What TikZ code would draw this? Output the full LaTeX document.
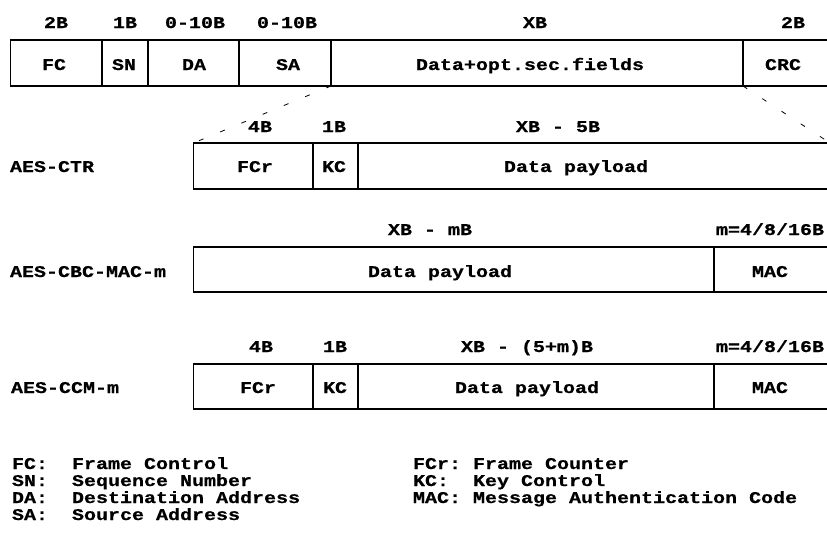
\documentclass[tikz,border=0pt]{standalone}
\usepackage{fontspec}
\newfontfamily\courb[FakeStretch=1.22,FakeBold=0.6]{Liberation Mono Bold}
\begin{document}
\begin{tikzpicture}[x=1pt,y=-1pt,
  every node/.style={font=\courb\fontsize{16.4}{19}\selectfont, inner sep=0pt, outer sep=0pt},
  cell/.style={draw=black, line width=1.1pt, anchor=north west, minimum height=#1},
  txt/.style={anchor=base},
  lbl/.style={anchor=base west},
  dashline/.style={line width=0.8pt, dash pattern=on 5pt off 18pt}]
\useasboundingbox (0,0) rectangle (827,538);
\clip (0,0) rectangle (827,538);
% ---- top frame ----
\node[cell=46pt, minimum width=91.3pt] (fc) at (10.7,40) {};
\node[cell=46pt, minimum width=46pt] (sn) at (102,40) {};
\node[cell=46pt, minimum width=91pt] (da) at (148,40) {};
\node[cell=46pt, minimum width=92pt] (sa) at (239,40) {};
\node[cell=46pt, minimum width=412pt] (data) at (331,40) {};
\node[cell=46pt, minimum width=87pt] (crc) at (743,40) {};
\node[txt] (h1) at (56,28) {2B};
\node[txt] (h2) at (125,28) {1B};
\node[txt] (h3) at (195,28) {0-10B};
\node[txt] (h4) at (287,28) {0-10B};
\node[txt] (h5) at (535,28) {XB};
\node[txt] (h6) at (793,28) {2B};
\node[txt] (t1) at (54,70) {FC};
\node[txt] (t2) at (124,70) {SN};
\node[txt] (t3) at (194,70) {DA};
\node[txt] (t4) at (288,70) {SA};
\node[txt] (t5) at (530,70) {Data+opt.sec.fields};
\node[txt] (t6) at (783,70) {CRC};
% ---- AES-CTR ----
\node[lbl] (lctr) at (10,172) {AES-CTR};
\node[cell=46pt, minimum width=119.5pt] (ctrfcr) at (193.5,143) {};
\node[cell=46pt, minimum width=45pt] (ctrkc) at (313,143) {};
\node[cell=46pt, minimum width=472pt] (ctrdata) at (358,143) {};
\node[txt] (ch1) at (260,132) {4B};
\node[txt] (ch2) at (334,132) {1B};
\node[txt] (ch3) at (558,132) {XB - 5B};
\node[txt] (ct1) at (255,172) {FCr};
\node[txt] (ct2) at (334,172) {KC};
\node[txt] (ct3) at (576,172) {Data payload};
\draw[dashline] (sa.south east) -- (ctrfcr.north west);
\draw[dashline] (crc.south west) -- (ctrdata.north east);
% ---- AES-CBC-MAC-m ----
\node[lbl] (lcbc) at (10,277) {AES-CBC-MAC-m};
\node[cell=45pt, minimum width=520.5pt] (cbcdata) at (193.5,247) {};
\node[cell=45pt, minimum width=116pt] (cbcmac) at (714,247) {};
\node[txt] (bh1) at (430,235) {XB - mB};
\node[txt] (bh2) at (770,235) {m=4/8/16B};
\node[txt] (bt1) at (440,277) {Data payload};
\node[txt] (bt2) at (770,277) {MAC};
% ---- AES-CCM-m ----
\node[lbl] (lccm) at (11,393) {AES-CCM-m};
\node[cell=45pt, minimum width=119.5pt] (ccmfcr) at (193.5,364) {};
\node[cell=45pt, minimum width=45pt] (ccmkc) at (313,364) {};
\node[cell=45pt, minimum width=356pt] (ccmdata) at (358,364) {};
\node[cell=45pt, minimum width=116pt] (ccmmac) at (714,364) {};
\node[txt] (mh1) at (261,352) {4B};
\node[txt] (mh2) at (335,352) {1B};
\node[txt] (mh3) at (527,352) {XB - (5+m)B};
\node[txt] (mh4) at (770,352) {m=4/8/16B};
\node[txt] (mt1) at (258,393) {FCr};
\node[txt] (mt2) at (335,393) {KC};
\node[txt] (mt3) at (527,393) {Data payload};
\node[txt] (mt4) at (770,393) {MAC};
% ---- legend ----
\node[lbl] (k1) at (12,469) {FC:};
\node[lbl] (d1) at (72,469) {Frame Control};
\node[lbl] (k2) at (12,486) {SN:};
\node[lbl] (d2) at (72,486) {Sequence Number};
\node[lbl] (k3) at (12,503) {DA:};
\node[lbl] (d3) at (72,503) {Destination Address};
\node[lbl] (k4) at (12,520) {SA:};
\node[lbl] (d4) at (72,520) {Source Address};
\node[lbl] (k5) at (413,469) {FCr:};
\node[lbl] (d5) at (473,469) {Frame Counter};
\node[lbl] (k6) at (413,486) {KC:};
\node[lbl] (d6) at (473,486) {Key Control};
\node[lbl] (k7) at (413,503) {MAC:};
\node[lbl] (d7) at (473,503) {Message Authentication Code};
\end{tikzpicture}
\end{document}
